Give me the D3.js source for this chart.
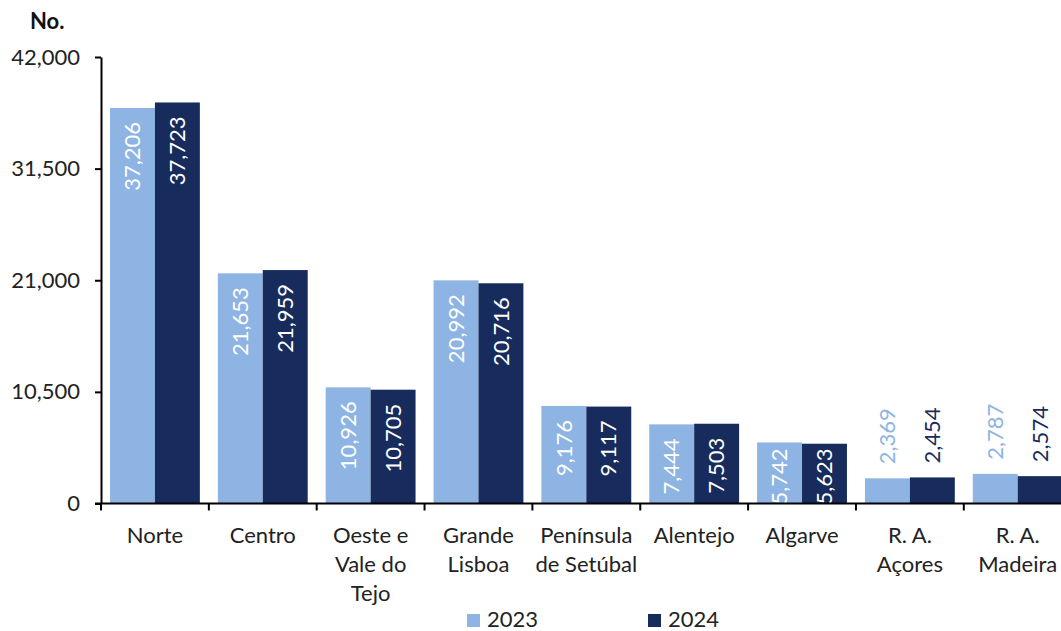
<!DOCTYPE html>
<html>
<head>
<meta charset="utf-8">
<script src="https://cdn.jsdelivr.net/npm/d3@7"></script>
<style>
  body { margin: 0; background: #fff; }
  svg { display: block; font-family: Lato, 'Liberation Sans', sans-serif; }
</style>
</head>
<body>
<svg id="chart" width="1061" height="631"></svg>
<script>
// data
const regions = [
    ['Norte'], ['Centro'], ['Oeste e', 'Vale do', 'Tejo'], ['Grande', 'Lisboa'],
    ['Península', 'de Setúbal'], ['Alentejo'], ['Algarve'], ['R. A.', 'Açores'], ['R. A.', 'Madeira'],
];
const years = ['2023', '2024'];
const values2023 = [37206, 21653, 10926, 20992, 9176, 7444, 5742, 2369, 2787];
const values2024 = [37723, 21959, 10705, 20716, 9117, 7503, 5623, 2454, 2574];
const yTicks = [0, 10500, 21000, 31500, 42000];

const colors = { '2023': '#8db4e2', '2024': '#172c5c' };
const fmt = d3.format(',');
const fs = 22;

const svg = d3.select('#chart');
const x0 = 101, band = 107.85, y0 = 503.5, yTop = 57;

const names = regions.map((d) => d.join(' '));
const x = d3.scaleBand().domain(names).range([x0, x0 + band * names.length]).padding(0);
const xs = d3.scaleBand().domain(years).range([9, band - 9]).padding(0);
const y = d3.scaleLinear().domain([0, 42000]).range([y0, yTop]);

const rows = names.map((n, i) => ({ name: n, lines: regions[i], v: { '2023': values2023[i], '2024': values2024[i] } }));

// bars
const groups = svg.append('g').selectAll('g')
    .data(rows)
    .join('g')
    .attr('transform', (d) => 'translate(' + x(d.name) + ',0)');

groups.selectAll('rect')
    .data((d) => years.map((k) => ({ key: k, value: d.v[k] })))
    .join('rect')
    .attr('x', (d) => xs(d.key))
    .attr('y', (d) => y(d.value))
    .attr('width', xs.bandwidth())
    .attr('height', (d) => y(0) - y(d.value))
    .attr('fill', (d) => colors[d.key]);

// value labels, rotated; inside the bar unless the bar is too short
const inside = (d) => d.value > 4000;
groups.selectAll('text.val')
    .data((d) => years.map((k) => ({ key: k, value: d.v[k] })))
    .join('text')
    .attr('class', 'val')
    .attr('text-anchor', (d) => (inside(d) ? 'end' : 'start'))
    .attr('dy', '0.35em')
    .attr('font-size', fs)
    .attr('fill', (d) => (inside(d) ? '#fff' : colors[d.key]))
    .text((d) => fmt(d.value))
    .attr('transform', function (d) {
        const cx = xs(d.key) + xs.bandwidth() / 2;
        let ty;
        if (inside(d)) {
            // keep the label inside the bar when it is short
            const len = this.getComputedTextLength();
            ty = Math.min(y(d.value) + 14, y0 + 1 - len);
        } else {
            ty = y(d.value) - 14;
        }
        return 'translate(' + cx + ',' + ty + ') rotate(-90)';
    });

// y axis
const yAxis = svg.append('g')
    .attr('transform', 'translate(' + x0 + ',0)')
    .call(d3.axisLeft(y).tickValues(yTicks).tickFormat(fmt).tickSize(6).tickSizeOuter(0));
yAxis.select('.domain').attr('stroke', '#000').attr('stroke-width', 2);
yAxis.selectAll('.tick line').attr('stroke', '#000').attr('stroke-width', 2);
yAxis.selectAll('.tick text')
    .attr('x', -21)
    .attr('font-size', fs)
    .attr('font-family', 'Lato, sans-serif')
    .attr('fill', '#222');

// x axis: ticks at band boundaries
const xAxis = svg.append('g');
xAxis.append('line')
    .attr('x1', x0 - 6).attr('x2', 1061)
    .attr('y1', y0).attr('y2', y0)
    .attr('stroke', '#000').attr('stroke-width', 2);
xAxis.selectAll('line.tk')
    .data(names.map((n) => x(n)))
    .join('line')
    .attr('class', 'tk')
    .attr('x1', (d) => d).attr('x2', (d) => d)
    .attr('y1', y0).attr('y2', y0 + 7)
    .attr('stroke', '#000').attr('stroke-width', 2);

const lbl = xAxis.selectAll('text.cat')
    .data(rows)
    .join('text')
    .attr('class', 'cat')
    .attr('text-anchor', 'middle')
    .attr('font-size', fs)
    .attr('fill', '#222')
    .attr('transform', (d) => 'translate(' + (x(d.name) + band / 2) + ',' + (y0 + 39) + ')');
lbl.selectAll('tspan')
    .data((d) => d.lines)
    .join('tspan')
    .attr('x', 0)
    .attr('dy', (d, i) => (i ? 29 : 0))
    .text((d) => d);

// unit
svg.append('text')
    .attr('x', 30).attr('y', 29)
    .attr('font-size', fs)
    .attr('font-weight', 'bold')
    .attr('fill', '#111')
    .text('No.');

// legend
const legend = svg.append('g').selectAll('g')
    .data(years)
    .join('g')
    .attr('transform', (d, i) => 'translate(' + (467 + i * 181) + ',614)');
legend.append('rect')
    .attr('width', 13).attr('height', 13)
    .attr('fill', (d) => colors[d]);
legend.append('text')
    .attr('x', 20).attr('y', 13)
    .attr('font-size', fs)
    .attr('fill', '#222')
    .text((d) => d);
</script>
</body>
</html>
